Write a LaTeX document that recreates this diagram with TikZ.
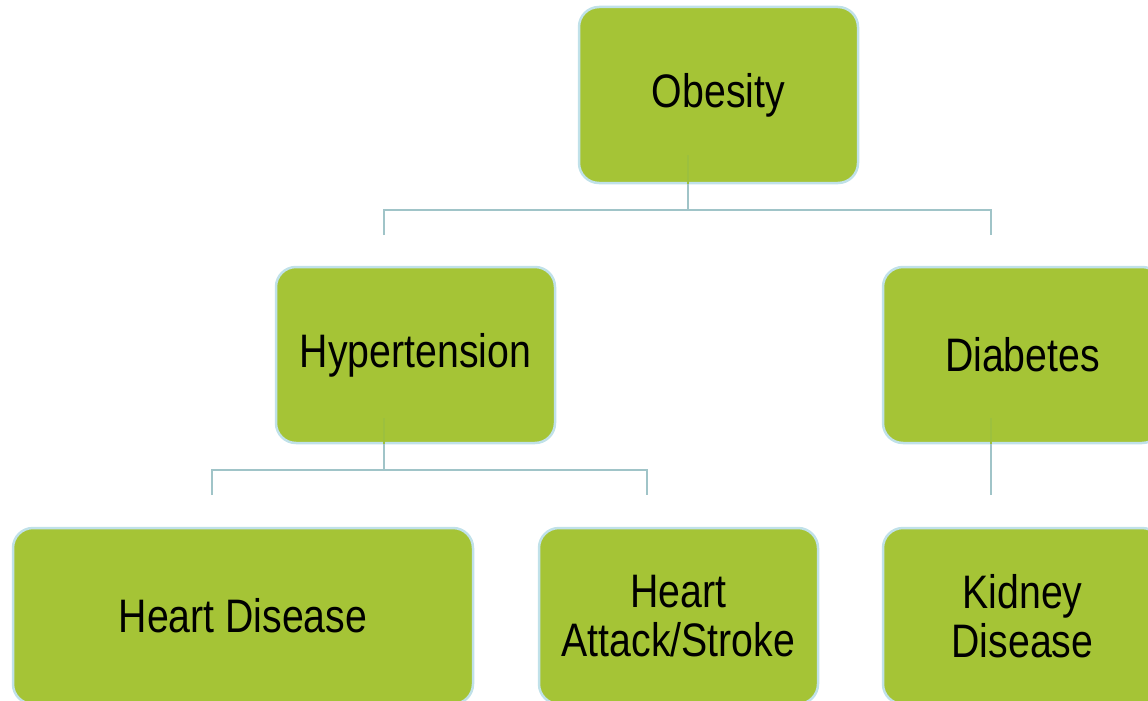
\documentclass[tikz,border=0pt]{standalone}
\usepackage{fontspec}
\newfontfamily\lbl[FakeStretch=0.835]{Liberation Sans}
\definecolor{boxfill}{RGB}{165,196,54}
\definecolor{boxedge}{RGB}{192,225,233}
\definecolor{conncol}{RGB}{160,196,200}
\definecolor{innercol}{RGB}{156,192,62}
\tikzset{
  box/.style={rectangle, rounded corners=20pt, fill=boxfill, draw=boxedge, line width=2.5pt,
    minimum width=279pt, minimum height=176pt, inner sep=0pt, outer sep=0pt, align=center,
    font=\lbl\fontsize{47pt}{49pt}\selectfont, text=black},
  conn/.style={draw=conncol, line width=2.5pt},
  innerconn/.style={draw=innercol, line width=2.5pt}
}
\begin{document}
\begin{tikzpicture}[x=1pt,y=-1pt]
\useasboundingbox (0,0) rectangle (1148,701);
\node[box] (ob) at (718.5,95) {Obesity};
\node[box] (hyp) at (415.5,355) {Hypertension};
\node[box] (dia) at (1022.5,355) {Diabetes};
\node[box, minimum width=460pt] (hd) at (243,616) {Heart Disease};
\node[box] (has) at (678.5,616) {Heart\\Attack/Stroke};
\node[box] (kd) at (1022.5,616) {Kidney\\Disease};
% junction coordinates
\coordinate (j1) at (688,210);
\coordinate (j1l) at (384,210);
\coordinate (j1r) at (991,210);
\coordinate (e1l) at (384,235);
\coordinate (e1r) at (991,235);
\coordinate (j2) at (384,470);
\coordinate (j2l) at (212,470);
\coordinate (j2r) at (647,470);
\coordinate (e2l) at (212,495);
\coordinate (e2r) at (647,495);
\coordinate (e3) at (991,495);
\coordinate (s1) at (688,184);
\coordinate (i1) at (688,155);
\coordinate (s2) at (384,444);
\coordinate (i2) at (384,418);
\coordinate (s3) at (991,444);
\coordinate (i3) at (991,418);
% connectors
\draw[innerconn] (i1) -- (s1);
\draw[conn] (s1) -- (j1);
\draw[conn] (e1l) -- (j1l) -- (j1r) -- (e1r);
\draw[innerconn] (i2) -- (s2);
\draw[conn] (s2) -- (j2);
\draw[conn] (e2l) -- (j2l) -- (j2r) -- (e2r);
\draw[innerconn] (i3) -- (s3);
\draw[conn] (s3) -- (e3);
\end{tikzpicture}
\end{document}
